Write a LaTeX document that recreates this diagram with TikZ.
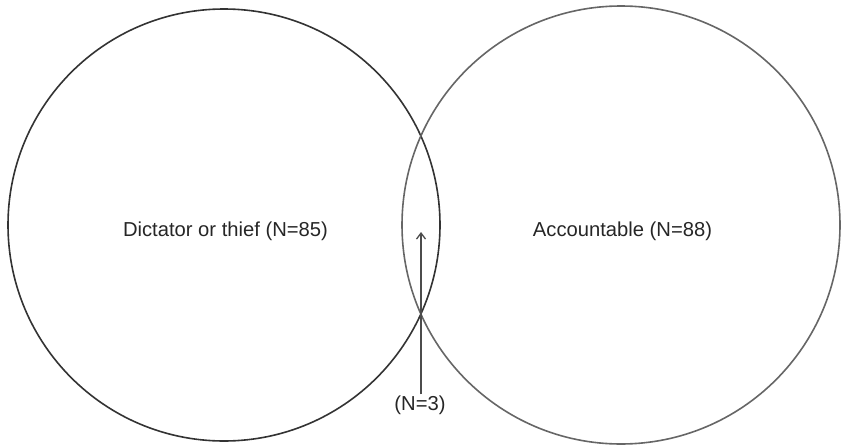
\documentclass[tikz,border=0pt]{standalone}
\usepackage{fontspec}
\setmainfont{Liberation Sans}
\usetikzlibrary{arrows.meta}
\begin{document}
\begin{tikzpicture}[x=1pt,y=-1pt,
  setcircle/.style={draw,circle,line width=1.6pt},
  lbl/.style={font=\fontsize{20.2}{24}\selectfont,text=black!85},
  arr/.style={line width=1.3pt,draw=black!70,-{Straight Barb[length=6pt,width=9pt]}}]
\useasboundingbox (0,0) rectangle (841,447);
\node[setcircle,draw=black!80,minimum size=432pt,inner sep=0pt] (L) at (224,225) {};
\node[setcircle,draw=black!60,minimum size=438pt,inner sep=0pt] (R) at (621,225) {};
\node[lbl] (tl) at (225.5,231) {Dictator or thief (N=85)};
\node[lbl] (tr) at (622.5,231) {Accountable (N=88)};
\node[lbl,inner sep=1pt] (tn) at (420,405) {(N=3)};
\coordinate (tip) at (421,232);
\draw[arr] ([xshift=1pt]tn.north) -- (tip);
\end{tikzpicture}
\end{document}
